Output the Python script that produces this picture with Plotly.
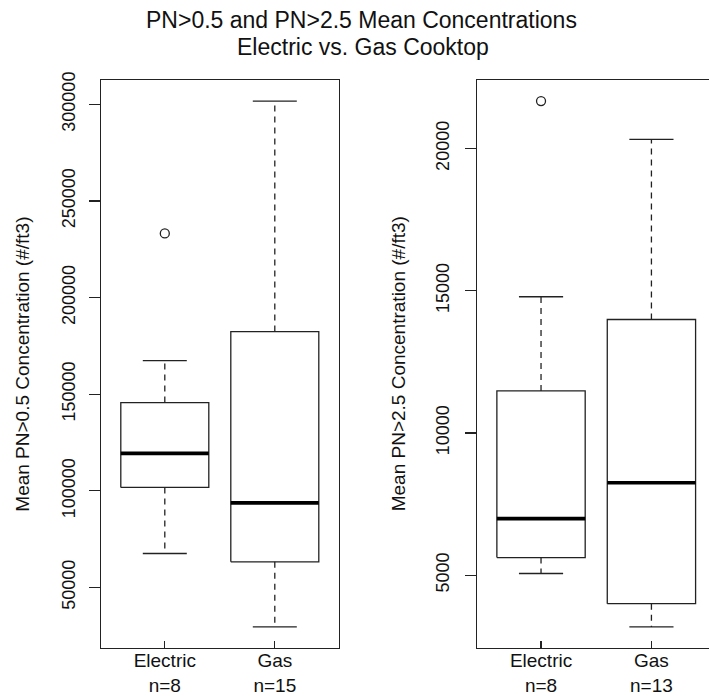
import plotly.graph_objects as go

# ---------------- data ----------------
categories = ["Electric", "Gas"]
positions = [1, 2]

pn05_n = [8, 15]
pn05_lower = [67600, 29600]
pn05_q1 = [101800, 63300]
pn05_median = [119400, 93800]
pn05_q3 = [145700, 182400]
pn05_upper = [167400, 301700]
pn05_outliers = [[233200], []]

pn25_n = [8, 13]
pn25_lower = [5060, 3180]
pn25_q1 = [5620, 4000]
pn25_median = [6990, 8250]
pn25_q3 = [11480, 13990]
pn25_upper = [14790, 20320]
pn25_outliers = [[21670], []]

pn05_ticks = [50000, 100000, 150000, 200000, 250000, 300000]
pn25_ticks = [5000, 10000, 15000, 20000]

title_line1 = "PN>0.5 and PN>2.5 Mean Concentrations"
title_line2 = "Electric vs. Gas Cooktop"
pn05_ylabel = "Mean PN>0.5 Concentration (#/ft3)"
pn25_ylabel = "Mean PN>2.5 Concentration (#/ft3)"

# ---------------- figure ----------------
W, H = 709, 696
FONT = "Liberation Sans, Arial, Helvetica, sans-serif"
LINE = "#222222"
TXT = "#111111"
BOXW = 0.4
CAPW = 0.2

fig = go.Figure()


def add_panel(xa, ya, lower, q1, med, q3, upper, outliers):
    for i, p in enumerate(positions):
        fig.add_trace(go.Scatter(
            x=[p - BOXW, p + BOXW, p + BOXW, p - BOXW, p - BOXW],
            y=[q1[i], q1[i], q3[i], q3[i], q1[i]],
            mode="lines", line=dict(color=LINE, width=1.3),
            xaxis=xa, yaxis=ya, hoverinfo="skip", showlegend=False))
        fig.add_trace(go.Scatter(
            x=[p - BOXW, p + BOXW], y=[med[i], med[i]],
            mode="lines", line=dict(color="#000000", width=3.6),
            xaxis=xa, yaxis=ya, hoverinfo="skip", showlegend=False))
        fig.add_trace(go.Scatter(
            x=[p, p, None, p, p],
            y=[q3[i], upper[i], None, q1[i], lower[i]],
            mode="lines", line=dict(color=LINE, width=1.3, dash="6px,5px"),
            xaxis=xa, yaxis=ya, hoverinfo="skip", showlegend=False))
        fig.add_trace(go.Scatter(
            x=[p - CAPW, p + CAPW, None, p - CAPW, p + CAPW],
            y=[upper[i], upper[i], None, lower[i], lower[i]],
            mode="lines", line=dict(color=LINE, width=1.3),
            xaxis=xa, yaxis=ya, hoverinfo="skip", showlegend=False))
        if outliers[i]:
            fig.add_trace(go.Scatter(
                x=[p] * len(outliers[i]), y=outliers[i], mode="markers",
                marker=dict(symbol="circle-open", size=9,
                            line=dict(color=LINE, width=1.3), color=LINE),
                xaxis=xa, yaxis=ya, hoverinfo="skip", showlegend=False))


add_panel("x", "y", pn05_lower, pn05_q1, pn05_median, pn05_q3, pn05_upper, pn05_outliers)
add_panel("x2", "y2", pn25_lower, pn25_q1, pn25_median, pn25_q3, pn25_upper, pn25_outliers)


def yrange(lower, upper, outliers):
    lo = min(lower + [v for o in outliers for v in o])
    hi = max(upper + [v for o in outliers for v in o])
    ext = (hi - lo) * 0.04
    return [lo - ext, hi + ext]


left_px, right_edge_px = 101, 338.6
left2_px = 477
unit2 = 110.4
line_common = dict(showgrid=False, zeroline=False, showline=True, automargin=False,
                   linecolor=LINE, linewidth=1.2, tickcolor=LINE, tickwidth=1.2)
xfont = dict(family=FONT, size=19, color=TXT)
yfont = dict(family=FONT, size=18, color=TXT)

xticktext_1 = [f"{c}<br>n={n}" for c, n in zip(categories, pn05_n)]
xticktext_2 = [f"{c}<br>n={n}" for c, n in zip(categories, pn25_n)]

fig.update_layout(
    width=W, height=H,
    margin=dict(l=0, r=0, t=80, b=48, pad=0),
    paper_bgcolor="white", plot_bgcolor="white",
    showlegend=False,
    xaxis=dict(domain=[left_px / W, right_edge_px / W], range=[0.42, 2.58],
               tickvals=positions, ticktext=xticktext_1, ticks="inside", ticklen=7,
               mirror=True, tickfont=xfont, ticklabelstandoff=-5, **line_common),
    yaxis=dict(domain=[0, 1], range=yrange(pn05_lower, pn05_upper, pn05_outliers),
               tickvals=pn05_ticks, ticktext=[str(t) for t in pn05_ticks],
               ticks="outside", tickangle=-90, ticklen=11, mirror=True,
               tickfont=yfont, ticklabelstandoff=7, **line_common),
    xaxis2=dict(domain=[left2_px / W, 1.0],
                range=[0.42, 0.42 + (W - left2_px) / unit2],
                tickvals=positions, ticktext=xticktext_2, ticks="inside", ticklen=7,
                mirror=True, anchor="y2", tickfont=xfont, ticklabelstandoff=-5,
                **line_common),
    yaxis2=dict(domain=[0, 1], range=yrange(pn25_lower, pn25_upper, pn25_outliers),
                tickvals=pn25_ticks, ticktext=[str(t) for t in pn25_ticks],
                ticks="outside", tickangle=-90, ticklen=11, mirror=False, anchor="x2",
                tickfont=yfont, ticklabelstandoff=9, **line_common),
)

ph = H - 80 - 48


def py(px):
    return (H - 48 - px) / ph


fig.add_annotation(text=title_line1, x=361 / W, y=py(19.5), xref="paper", yref="paper",
                   showarrow=False, xanchor="center", yanchor="middle",
                   font=dict(family=FONT, size=23, color=TXT))
fig.add_annotation(text=title_line2, x=363 / W, y=py(46.5), xref="paper", yref="paper",
                   showarrow=False, xanchor="center", yanchor="middle",
                   font=dict(family=FONT, size=23, color=TXT))
fig.add_annotation(text=pn05_ylabel, x=21.7 / W, y=0.5, xref="paper", yref="paper",
                   showarrow=False, textangle=-90, xanchor="center", yanchor="middle",
                   font=dict(family=FONT, size=19, color=TXT))
fig.add_annotation(text=pn25_ylabel, x=398.3 / W, y=0.5, xref="paper", yref="paper",
                   showarrow=False, textangle=-90, xanchor="center", yanchor="middle",
                   font=dict(family=FONT, size=19, color=TXT))

fig.write_html("out.html",
               config={"displayModeBar": False, "staticPlot": True},
               post_script="document.body.style.margin='0px';"
                           "document.body.style.overflow='hidden';")
